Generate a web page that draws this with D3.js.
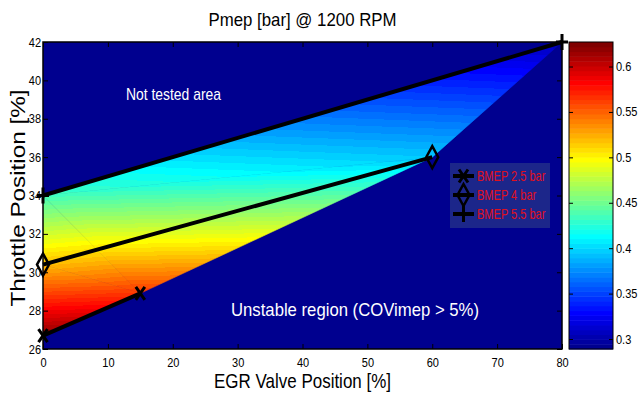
<!DOCTYPE html>
<html>
<head>
<meta charset="utf-8">
<script src="https://cdn.jsdelivr.net/npm/d3@7"></script>
<style>
  body { margin: 0; background: white; }
  text { font-family: "Liberation Sans", Arial, sans-serif; }
</style>
</head>
<body>
<main></main>
<script>
// measured points (EGR valve %, throttle %, Pmep bar)
const seriesNames = ["BMEP 2.5 bar", "BMEP 4 bar", "BMEP 5.5 bar"];
const egr25 = [0, 15];
const thr25 = [26.7, 28.9];
const pmep25 = [0.62, 0.565];
const egr40 = [0, 60];
const thr40 = [30.4, 36];
const pmep40 = [0.52, 0.395];
const egr55 = [0, 80];
const thr55 = [34, 42];
const pmep55 = [0.435, 0.305];

const xTicks = [0, 10, 20, 30, 40, 50, 60, 70, 80];
const yTicks = [26, 28, 30, 32, 34, 36, 38, 40, 42];
const cbTicks = [0.3, 0.35, 0.4, 0.45, 0.5, 0.55, 0.6];
const cbRange = [0.289, 0.627];

const W = 639, H = 400;
const plot = { left: 43, right: 562, top: 42, bottom: 349 };
const cb = { left: 569, right: 613 };

// MATLAB jet(64)
function jet (t) {
    var c = function (v) { return Math.max(0, Math.min(1, v)); };
    return d3.rgb(255 * c(1.5 - Math.abs(4 * t - 3)),
                  255 * c(1.5 - Math.abs(4 * t - 2)),
                  255 * c(1.5 - Math.abs(4 * t - 1))).toString();
}
const jet64 = d3.range(64).map(function (i) { return jet((i + 1) / 64); });

// the picture was squeezed sideways, so text is narrower than the font
function condense (sel, f) {
    sel.each(function () {
        var w = this.getComputedTextLength();
        d3.select(this).attr("textLength", w * f).attr("lengthAdjust", "spacingAndGlyphs");
    });
}

var x = d3.scaleLinear().domain([0, 80]).range([plot.left, plot.right]);
var y = d3.scaleLinear().domain([26, 42]).range([plot.bottom, plot.top]);
var cbY = d3.scaleLinear().domain(cbRange).range([plot.bottom, plot.top]);

var svg = d3.select("main").append("svg")
            .attr("width", W)
            .attr("height", H);

var defs = svg.append("defs");
defs.append("clipPath").attr("id", "plotclip")
    .append("rect")
    .attr("x", plot.left).attr("y", plot.top)
    .attr("width", plot.right - plot.left)
    .attr("height", plot.bottom - plot.top);

// background = lowest colour of the map
svg.append("rect")
   .attr("x", plot.left).attr("y", plot.top)
   .attr("width", plot.right - plot.left)
   .attr("height", plot.bottom - plot.top)
   .style("fill", jet64[0]);

// interpolated field over the triangulated points (like griddata)
var pts = [];
[[egr25, thr25, pmep25], [egr40, thr40, pmep40], [egr55, thr55, pmep55]].forEach(function (s) {
    s[0].forEach(function (e, i) { pts.push({ e: e, t: s[1][i], v: s[2][i] }); });
});
var delaunay = d3.Delaunay.from(pts, function (d) { return d.e; }, function (d) { return d.t; });
var field = svg.append("g").attr("clip-path", "url(#plotclip)");
var tri = delaunay.triangles;

for (var k = 0; k < tri.length; k += 3) {
    var p = [pts[tri[k]], pts[tri[k + 1]], pts[tri[k + 2]]].map(function (d) {
        return { x: x(d.e), y: y(d.t), v: d.v };
    });
    var dx1 = p[1].x - p[0].x, dy1 = p[1].y - p[0].y, dv1 = p[1].v - p[0].v;
    var dx2 = p[2].x - p[0].x, dy2 = p[2].y - p[0].y, dv2 = p[2].v - p[0].v;
    var det = dx1 * dy2 - dx2 * dy1;
    if (Math.abs(det) < 1) continue;
    var b = (dv1 * dy2 - dv2 * dy1) / det;
    var c = (dx1 * dv2 - dx2 * dv1) / det;
    var g2 = b * b + c * c;
    var s0 = (cbRange[0] - p[0].v) / g2, s1 = (cbRange[1] - p[0].v) / g2;

    var grad = defs.append("linearGradient")
                   .attr("id", "tri" + k)
                   .attr("gradientUnits", "userSpaceOnUse")
                   .attr("x1", p[0].x + s0 * b).attr("y1", p[0].y + s0 * c)
                   .attr("x2", p[0].x + s1 * b).attr("y2", p[0].y + s1 * c);
    jet64.forEach(function (col, i) {
        grad.append("stop").attr("offset", i / 64).attr("stop-color", col);
        grad.append("stop").attr("offset", (i + 1) / 64).attr("stop-color", col);
    });

    field.append("path")
         .attr("d", "M" + p.map(function (d) { return d.x + "," + d.y; }).join("L") + "Z")
         .style("fill", "url(#tri" + k + ")")
         .style("stroke", "url(#tri" + k + ")")
         .style("stroke-width", 0.6);
}

// axes with inward ticks
function styleAxis (g) {
    g.select(".domain").remove();
    g.selectAll(".tick line").style("stroke", "black").style("stroke-width", 1);
    g.selectAll(".tick text").style("font-size", "12.5px").style("fill", "black")
     .style("font-family", "'Liberation Sans', Arial, sans-serif")
     .call(condense, 0.88);
}
svg.append("g").attr("transform", "translate(0," + plot.bottom + ")")
   .call(d3.axisBottom(x).tickValues(xTicks).tickSize(-5).tickPadding(9))
   .call(styleAxis);
svg.append("g").attr("transform", "translate(0," + plot.top + ")")
   .call(d3.axisTop(x).tickValues(xTicks).tickSize(-5).tickFormat(""))
   .call(styleAxis);
svg.append("g").attr("transform", "translate(" + plot.left + ",0)")
   .call(d3.axisLeft(y).tickValues(yTicks).tickSize(-5).tickPadding(2))
   .call(styleAxis);
svg.append("g").attr("transform", "translate(" + plot.right + ",0)")
   .call(d3.axisRight(y).tickValues(yTicks).tickSize(-5).tickFormat(""))
   .call(styleAxis);

svg.append("rect")
   .attr("x", plot.left).attr("y", plot.top)
   .attr("width", plot.right - plot.left)
   .attr("height", plot.bottom - plot.top)
   .style("fill", "none")
   .style("stroke", "black")
   .style("stroke-width", 1.5);

// series lines and markers
var series = [
    { e: egr25, t: thr25, marker: "x" },
    { e: egr40, t: thr40, marker: "d" },
    { e: egr55, t: thr55, marker: "+" }
];

function drawMarker (g, type, cx, cy) {
    var m = g.append("g").attr("transform", "translate(" + cx + "," + cy + ")")
             .style("stroke", "black").style("fill", "none").style("stroke-width", 3);
    if (type == "x") {
        m.append("path").attr("d", "M-4.5,-6.5L4.5,6.5M-4.5,6.5L4.5,-6.5");
    } else if (type == "d") {
        m.append("path").attr("d", "M0,-11L6,0L0,11L-6,0Z").style("stroke-width", 2.5);
    } else {
        m.append("path").attr("d", "M0,-8L0,8M-6,0L6,0");
    }
}

var lineGen = d3.line().x(function (d) { return x(d[0]); }).y(function (d) { return y(d[1]); });
series.forEach(function (s) {
    var data = s.e.map(function (e, i) { return [e, s.t[i]]; });
    svg.append("path")
       .datum(data)
       .attr("d", lineGen)
       .style("fill", "none")
       .style("stroke", "black")
       .style("stroke-width", 4);
    data.forEach(function (d) { drawMarker(svg, s.marker, x(d[0]), y(d[1])); });
});

// legend
var legend = svg.append("g");
legend.append("rect")
      .attr("x", 450).attr("y", 163)
      .attr("width", 100).attr("height", 65)
      .style("fill", "rgb(28,38,138)");
seriesNames.forEach(function (name, i) {
    var ly = 176 + i * 19;
    legend.append("line")
          .attr("x1", 453).attr("x2", 474).attr("y1", ly).attr("y2", ly)
          .style("stroke", "black").style("stroke-width", 4);
    drawMarker(legend, series[i].marker, 463.5, ly);
    legend.append("text")
          .attr("x", 477).attr("y", ly + 5)
          .style("font-size", "14.5px")
          .style("fill", "#e0101e")
          .text(name)
          .call(condense, 0.76);
});

// annotations
svg.append("text").attr("x", 126).attr("y", 100)
   .style("font-size", "17px").style("fill", "white")
   .attr("textLength", 95).attr("lengthAdjust", "spacingAndGlyphs")
   .text("Not tested area");
svg.append("text").attr("x", 231).attr("y", 316)
   .style("font-size", "19px").style("fill", "white")
   .attr("textLength", 248).attr("lengthAdjust", "spacingAndGlyphs")
   .text("Unstable region (COVimep > 5%)");

// colorbar
var cbar = svg.append("g");
cbar.selectAll("rect.cell")
    .data(jet64)
    .enter()
    .append("rect")
    .attr("class", "cell")
    .attr("x", cb.left)
    .attr("width", cb.right - cb.left)
    .attr("y", function (d, i) { return cbY(cbRange[0] + (i + 1) / 64 * (cbRange[1] - cbRange[0])); })
    .attr("height", (plot.bottom - plot.top) / 64 + 0.5)
    .style("fill", function (d) { return d; });
svg.append("g").attr("transform", "translate(" + cb.right + ",0)")
   .call(d3.axisRight(cbY).tickValues(cbTicks).tickSize(-4).tickPadding(3).tickFormat(d3.format("")))
   .call(styleAxis);
svg.append("g").attr("transform", "translate(" + cb.left + ",0)")
   .call(d3.axisLeft(cbY).tickValues(cbTicks).tickSize(-4).tickFormat(""))
   .call(styleAxis);
cbar.append("rect")
    .attr("x", cb.left).attr("y", plot.top)
    .attr("width", cb.right - cb.left)
    .attr("height", plot.bottom - plot.top)
    .style("fill", "none").style("stroke", "black").style("stroke-width", 1);

// titles
svg.append("text")
   .attr("x", (plot.left + plot.right) / 2).attr("y", 26)
   .style("text-anchor", "middle").style("font-size", "19px")
   .attr("textLength", 188).attr("lengthAdjust", "spacingAndGlyphs")
   .text("Pmep [bar] @ 1200 RPM");
svg.append("text")
   .attr("x", (plot.left + plot.right) / 2).attr("y", 388)
   .style("text-anchor", "middle").style("font-size", "21px")
   .attr("textLength", 177).attr("lengthAdjust", "spacingAndGlyphs")
   .text("EGR Valve Position [%]");
svg.append("text")
   .attr("transform", "translate(25,198) rotate(-90)")
   .style("text-anchor", "middle").style("font-size", "21px")
   .attr("textLength", 217).attr("lengthAdjust", "spacingAndGlyphs")
   .text("Throttle Position [%]");
</script>
</body>
</html>
